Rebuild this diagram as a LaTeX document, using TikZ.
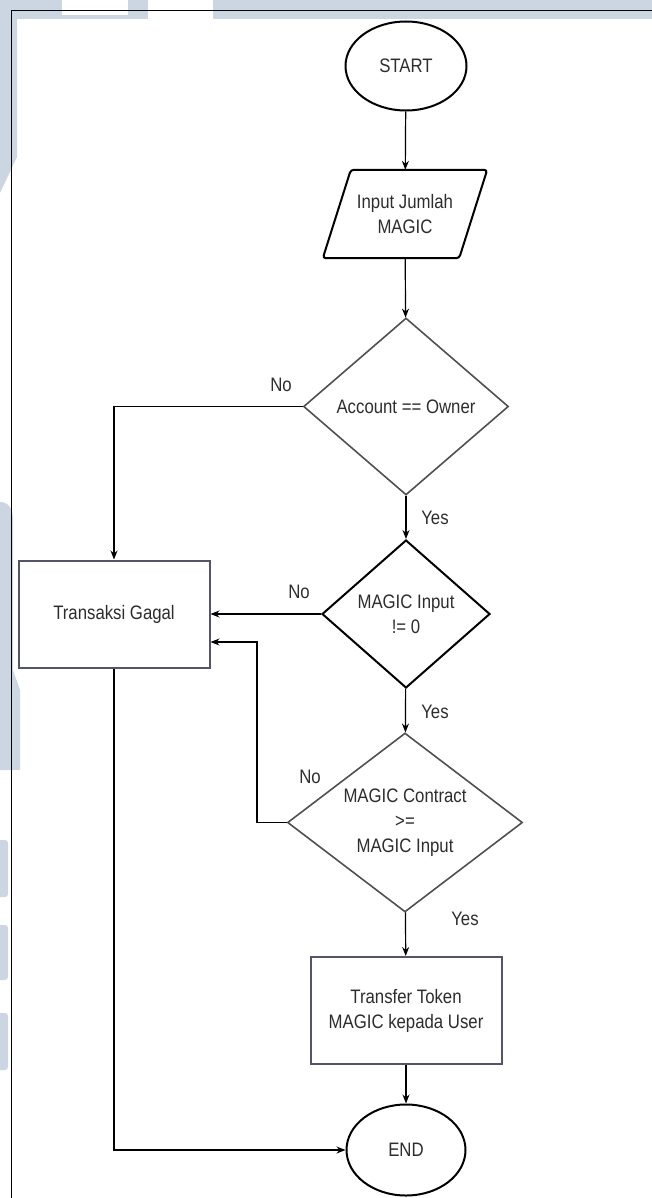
\documentclass[tikz,border=0pt]{standalone}
\usepackage{fontspec}
\setmainfont[FakeStretch=0.86]{Liberation Sans}
\usetikzlibrary{shapes.geometric,arrows.meta,calc}
\definecolor{wm}{RGB}{204,214,226}
\definecolor{txt}{RGB}{45,45,45}
\definecolor{boxc}{RGB}{85,85,105}
\definecolor{dgrey}{RGB}{80,80,80}
\begin{document}
\begin{tikzpicture}[x=1pt,y=-1pt,
  font=\fontsize{19.5}{25}\selectfont, text=txt,
  term/.style={ellipse, draw=black, line width=2pt, fill=white, minimum width=121pt, minimum height=89pt, inner sep=0pt},
  dec/.style={diamond, draw=dgrey, line width=1.6pt, fill=white, inner sep=0pt, align=center},
  proc/.style={rectangle, draw=boxc, line width=2pt, fill=white, minimum width=191pt, minimum height=107pt, inner sep=0pt, align=center},
  arr/.style={-{Stealth[length=9pt,width=7pt]}, line width=1.2pt, draw=black},
  lbl/.style={inner sep=0pt}]
\useasboundingbox (0,0) rectangle (652,1198);
% watermark
\fill[wm] (0,0) rectangle (148,19);
\fill[white] (62,0) rectangle (128,15);
\fill[wm] (213,0) rectangle (652,19);
\fill[wm] (0,0) -- (17,0) -- (17,157) -- (0,193) -- cycle;
\fill[wm] (0,770) -- (0,502) .. controls (8,502) and (13,508) .. (13,520) -- (13,670) -- (20,690) -- (20,770) -- cycle;
\fill[wm, rounded corners=3pt] (-6,840) rectangle (8,897);
\fill[wm, rounded corners=3pt] (-6,925) rectangle (8,980);
\fill[wm, rounded corners=3pt] (-6,1013) rectangle (8,1070);
% frame
\draw[line width=1pt] (11,1198) -- (11,11) -- (652,11);
% nodes
\node[term] (start) at (406,66) {START};
\node[minimum width=136pt, minimum height=88pt, inner sep=0pt, align=center] (in) at (405,214) {Input Jumlah\\MAGIC};
\draw[line width=2pt, rounded corners=3pt] ($(in.north west)+(14,0)$) -- ($(in.north east)+(14,0)$) -- ($(in.south east)+(-14,0)$) -- ($(in.south west)+(-14,0)$) -- cycle;
\node[dec, minimum width=205pt, minimum height=177pt, aspect=1.16] (d1) at (406,406.5) {Account == Owner};
\node[dec, draw=black, line width=2pt, minimum width=168pt, minimum height=148pt, aspect=1.14] (d2) at (406,614) {MAGIC Input\\!= 0};
\node[dec, minimum width=235pt, minimum height=179pt, aspect=1.31] (d3) at (405,822.5) {MAGIC Contract\\>=\\MAGIC Input};
\node[proc] (fail) at (114,614) {Transaksi Gagal};
\node[proc] (tr) at (406,1010.5) {Transfer Token\\MAGIC kepada User};
\node[term, minimum width=119pt, minimum height=91pt] (end) at (406,1150) {END};
% labels
\node[lbl] (no1) at (281,385) {No};
\node[lbl] (no2) at (299,592) {No};
\node[lbl] (no3) at (310,777) {No};
\node[lbl] (yes1) at (435,518) {Yes};
\node[lbl] (yes2) at (435,712) {Yes};
\node[lbl] (yes3) at (465,919) {Yes};
% connectors
\coordinate (k) at (257,700);
\draw[arr] (start) -- (in);
\draw[arr] (in) -- (d1);
\draw[arr] (d1.west) -| (fail.north);
\draw[arr] (d1) -- (d2);
\draw[arr] (d2.west) -- (fail.east);
\draw[arr] (d3.west) -| (k) |- ([yshift=-28pt]fail.east);
\draw[arr] (d2) -- (d3);
\draw[arr] (d3) -- (tr);
\draw[arr] (tr) -- (end);
\draw[arr] (fail.south) |- (end.west);
\end{tikzpicture}
\end{document}
